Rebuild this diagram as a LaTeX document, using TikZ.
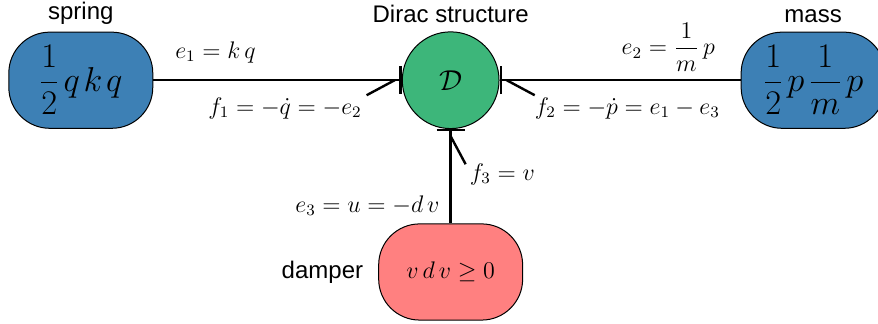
\documentclass[tikz,border=0pt]{standalone}
\usepackage{amsmath,amssymb}
\usepackage{fontspec}
\newfontfamily\capfont{Liberation Sans}
\usetikzlibrary{arrows.meta, positioning}
\definecolor{storeblue}{HTML}{3D80B5}
\definecolor{diracgreen}{HTML}{3DB67A}
\definecolor{dampred}{HTML}{FF8080}

\begin{document}
\begin{tikzpicture}[
    store/.style={draw, line width=0.5pt, rounded corners=0.72cm, minimum width=2.53cm, minimum height=1.69cm, inner sep=2pt, font=\fontsize{16}{19}\selectfont},
    junction/.style={draw, line width=0.5pt, circle, fill=diracgreen, minimum size=1.7cm, inner sep=0pt, font=\Large},
    caption/.style={font=\capfont\large},
    bond/.style={line width=1.2pt, -{Straight Barb[#1, length=14pt, width=15pt, sep=0pt] Bar[width=14pt, sep=0pt]}},
    elabel/.style={font=\large, inner sep=3pt},
]

\useasboundingbox (0,0) rectangle (15.43,5.69);

\node[junction] (D) at (7.92, 4.28) {$\mathcal{D}$};
\node[store, fill=storeblue] (spring) at (1.42, 4.28) {$\displaystyle\frac{1}{2}\mkern2mu q\mkern2mu k\mkern2mu q$};
\node[store, fill=storeblue] (mass) at (14.29, 4.28) {$\displaystyle\frac{1}{2}\mkern2mu p\mkern2mu \frac{1}{m}\mkern2mu p$};
\node[store, fill=dampred, font=\large] (damper) at (7.92, 0.91) {$v\,d\,v \geq 0$};

\node[caption, above=0pt of spring] (springcap) {spring};
\node[caption, above=1pt of D] (Dcap) {Dirac structure};
\node[caption, above=1pt of mass] (masscap) {mass};
\node[caption, left=4pt of damper] (dampcap) {damper};

\draw[bond=right] (spring) -- node[elabel, above=5pt, pos=0.25] {$e_1 = k\,q$} node[elabel, below=5pt, pos=0.53] {$f_1 = -\dot{q} = -e_2$} (D);
\draw[bond=left] (mass) -- node[elabel, above=1pt, pos=0.3] {$e_2 = \dfrac{1}{m}\,p$} node[elabel, below=5pt, pos=0.47] {$f_2 = -\dot{p} = e_1 - e_3$} (D);
\draw[bond=right] (damper) -- node[elabel, left=2pt, pos=0.19] {$e_3 = u = -d\,v$} node[elabel, right=6pt, pos=0.52] {$f_3 = v$} (D);

\end{tikzpicture}
\end{document}
